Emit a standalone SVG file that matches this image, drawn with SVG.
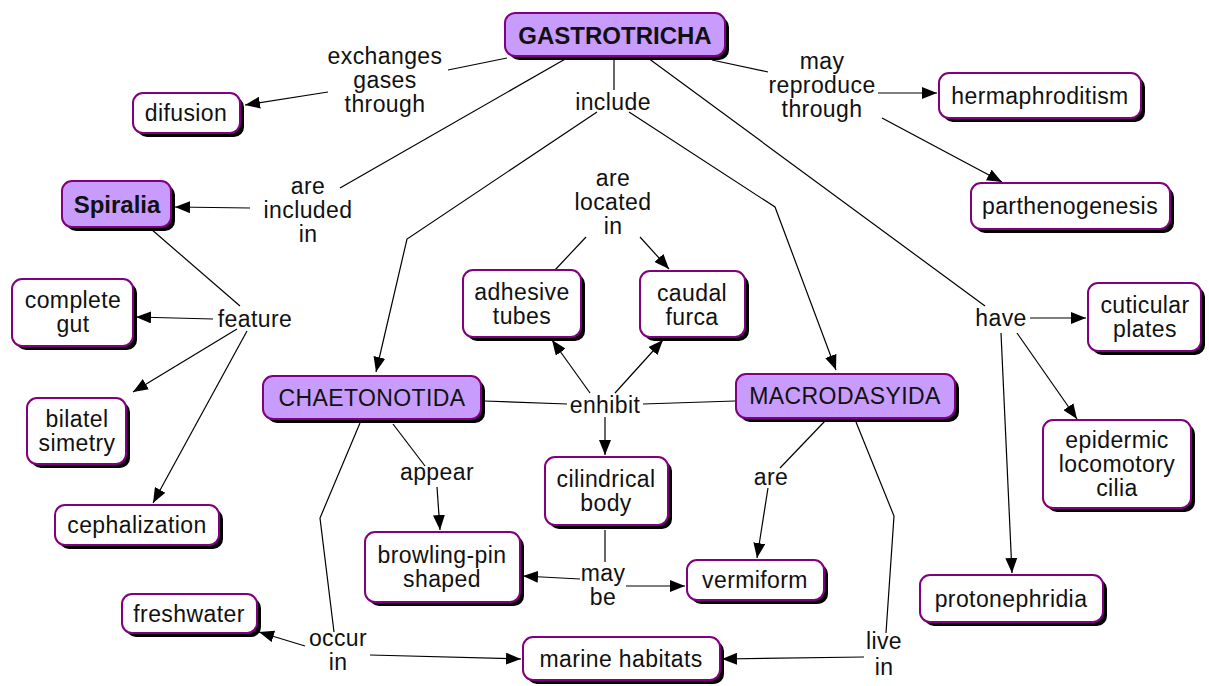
<svg xmlns="http://www.w3.org/2000/svg" width="1209" height="686" viewBox="0 0 1209 686">
<style>
.sh{fill:#000}
.c{fill:#fff;stroke:#800080;stroke-width:2}
.p{fill:#c79cfc;stroke:#800080;stroke-width:2}
text{font-family:"Liberation Sans",Arial,sans-serif;font-size:23px;letter-spacing:0.4px;fill:#111;text-anchor:middle;dominant-baseline:central}
.b{font-weight:bold;font-size:24px;letter-spacing:0}
.ln{fill:none;stroke:#000;stroke-width:1.2}
.a{marker-end:url(#ah)}
</style>
<defs>
<marker id="ah" markerUnits="userSpaceOnUse" markerWidth="16" markerHeight="12" refX="15" refY="6" orient="auto">
<path d="M0,0 L15,6 L0,12 Z" fill="#000"/>
</marker>
</defs>
<rect width="1209" height="686" fill="#fff"/>
<g id="connectors">
<path class="ln" d="M507,58 L448,70"/>
<path class="ln a" d="M328,92 L245,105"/>
<path class="ln" d="M567,58 L340,188"/>
<path class="ln a" d="M250,208 L175,207"/>
<path class="ln" d="M614,58 L614,90"/>
<path class="ln a" d="M597,112 L407,239 L376,372"/>
<path class="ln a" d="M629,112 L775,207 L836,370"/>
<path class="ln" d="M712,60 L768,72"/>
<path class="ln a" d="M878,93 L937,93"/>
<path class="ln a" d="M882,118 L1002,182"/>
<path class="ln" d="M648,58 L985,306"/>
<path class="ln a" d="M1030,318 L1086,318"/>
<path class="ln a" d="M1017,333 L1077,419"/>
<path class="ln a" d="M1001,333 L1012,573"/>
<path class="ln" d="M151,229 L240,306"/>
<path class="ln a" d="M213,319 L136,317"/>
<path class="ln a" d="M237,329 L133,392"/>
<path class="ln a" d="M247,331 L153,503"/>
<path class="ln" d="M555,270 L586,237"/>
<path class="ln a" d="M640,237 L669,269"/>
<path class="ln" d="M484,401 L567,404"/>
<path class="ln" d="M735,401 L643,404"/>
<path class="ln a" d="M590,393 L552,340"/>
<path class="ln a" d="M615,393 L663,340"/>
<path class="ln a" d="M605,417 L605,455"/>
<path class="ln" d="M393,424 L425,466"/>
<path class="ln a" d="M437,487 L440,530"/>
<path class="ln" d="M605,530 L605,562"/>
<path class="ln a" d="M580,579 L523,576"/>
<path class="ln a" d="M626,586 L685,586"/>
<path class="ln" d="M825,421 L780,468"/>
<path class="ln a" d="M768,488 L757,558"/>
<path class="ln" d="M360,423 L320,518 L334,632"/>
<path class="ln a" d="M305,646 L259,632"/>
<path class="ln a" d="M370,655 L521,659"/>
<path class="ln" d="M856,422 L894,516 L886,633"/>
<path class="ln a" d="M864,657 L722,659"/>
</g>
<g id="link-labels">
<text x="385" y="56">exchanges</text><text x="385" y="80">gases</text><text x="385" y="104">through</text>
<text x="308" y="186">are</text><text x="308" y="210">included</text><text x="308" y="234">in</text>
<text x="613" y="102">include</text>
<text x="822" y="61">may</text><text x="822" y="85">reproduce</text><text x="822" y="109">through</text>
<text x="255" y="319">feature</text>
<text x="613" y="178">are</text><text x="613" y="202">located</text><text x="613" y="226">in</text>
<text x="1001" y="318">have</text>
<text x="605" y="405">enhibit</text>
<text x="437" y="472">appear</text>
<text x="771" y="477">are</text>
<text x="603" y="573">may</text><text x="603" y="597">be</text>
<text x="338" y="638">occur</text><text x="338" y="662">in</text>
<text x="884" y="641">live</text><text x="884" y="667">in</text>
</g>
<g id="n-gastrotricha"><rect class="sh" x="509" y="17" width="220" height="43" rx="10"/><rect class="p" x="505" y="13" width="220" height="43" rx="10"/><text class="b" x="615" y="35">GASTROTRICHA</text></g>
<g id="n-difusion"><rect class="sh" x="137" y="97" width="107" height="40" rx="10"/><rect class="c" x="133" y="93" width="107" height="40" rx="10"/><text x="186" y="113">difusion</text></g>
<g id="n-spiralia"><rect class="sh" x="66" y="185" width="109" height="46" rx="10"/><rect class="p" x="62" y="181" width="109" height="46" rx="10"/><text class="b" x="117" y="204">Spiralia</text></g>
<g id="n-complete-gut"><rect class="sh" x="16" y="283" width="121" height="67" rx="10"/><rect class="c" x="12" y="279" width="121" height="67" rx="10"/><text x="73" y="300">complete</text><text x="73" y="324">gut</text></g>
<g id="n-bilatel"><rect class="sh" x="31" y="402" width="99" height="66" rx="10"/><rect class="c" x="27" y="398" width="99" height="66" rx="10"/><text x="77" y="419">bilatel</text><text x="77" y="443">simetry</text></g>
<g id="n-cephalization"><rect class="sh" x="59" y="509" width="164" height="40" rx="10"/><rect class="c" x="55" y="505" width="164" height="40" rx="10"/><text x="137" y="525">cephalization</text></g>
<g id="n-hermaphroditism"><rect class="sh" x="943" y="77" width="202" height="45" rx="10"/><rect class="c" x="939" y="73" width="202" height="45" rx="10"/><text x="1040" y="96">hermaphroditism</text></g>
<g id="n-parthenogenesis"><rect class="sh" x="975" y="187" width="199" height="46" rx="10"/><rect class="c" x="971" y="183" width="199" height="46" rx="10"/><text x="1070" y="206">parthenogenesis</text></g>
<g id="n-cuticular"><rect class="sh" x="1092" y="287" width="113" height="68" rx="10"/><rect class="c" x="1088" y="283" width="113" height="68" rx="10"/><text x="1145" y="305">cuticular</text><text x="1145" y="329">plates</text></g>
<g id="n-epidermic"><rect class="sh" x="1047" y="424" width="148" height="88" rx="10"/><rect class="c" x="1043" y="420" width="148" height="88" rx="10"/><text x="1117" y="440">epidermic</text><text x="1117" y="464">locomotory</text><text x="1117" y="488">cilia</text></g>
<g id="n-protonephridia"><rect class="sh" x="924" y="579" width="183" height="47" rx="10"/><rect class="c" x="920" y="575" width="183" height="47" rx="10"/><text x="1011" y="599">protonephridia</text></g>
<g id="n-adhesive"><rect class="sh" x="467" y="274" width="118" height="67" rx="10"/><rect class="c" x="463" y="270" width="118" height="67" rx="10"/><text x="522" y="292">adhesive</text><text x="522" y="316">tubes</text></g>
<g id="n-caudal"><rect class="sh" x="644" y="275" width="105" height="66" rx="10"/><rect class="c" x="640" y="271" width="105" height="66" rx="10"/><text x="692" y="293">caudal</text><text x="692" y="317">furca</text></g>
<g id="n-chaetonotida"><rect class="sh" x="267" y="380" width="218" height="43" rx="10"/><rect class="p" x="263" y="376" width="218" height="43" rx="10"/><text x="372" y="398">CHAETONOTIDA</text></g>
<g id="n-macrodasyida"><rect class="sh" x="740" y="378" width="219" height="44" rx="10"/><rect class="p" x="736" y="374" width="219" height="44" rx="10"/><text x="845" y="396">MACRODASYIDA</text></g>
<g id="n-cilindrical"><rect class="sh" x="549" y="461" width="123" height="68" rx="10"/><rect class="c" x="545" y="457" width="123" height="68" rx="10"/><text x="606" y="479">cilindrical</text><text x="606" y="503">body</text></g>
<g id="n-browling"><rect class="sh" x="369" y="536" width="155" height="70" rx="10"/><rect class="c" x="365" y="532" width="155" height="70" rx="10"/><text x="442" y="555">browling-pin</text><text x="442" y="579">shaped</text></g>
<g id="n-vermiform"><rect class="sh" x="691" y="564" width="137" height="40" rx="10"/><rect class="c" x="687" y="560" width="137" height="40" rx="10"/><text x="755" y="580">vermiform</text></g>
<g id="n-freshwater"><rect class="sh" x="126" y="598" width="135" height="39" rx="10"/><rect class="c" x="122" y="594" width="135" height="39" rx="10"/><text x="189" y="614">freshwater</text></g>
<g id="n-marine"><rect class="sh" x="527" y="641" width="197" height="43" rx="10"/><rect class="c" x="523" y="637" width="197" height="43" rx="10"/><text x="621" y="659">marine habitats</text></g>
</svg>
